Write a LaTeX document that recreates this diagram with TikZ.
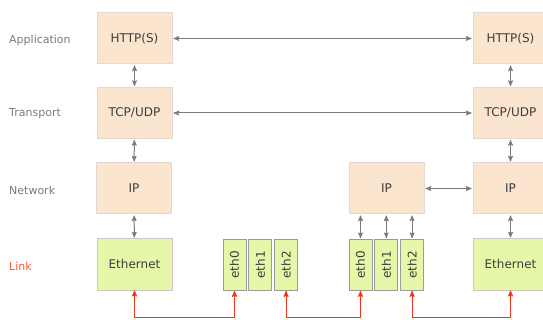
\documentclass[tikz,border=0pt]{standalone}
\usepackage{fontspec}
\setmainfont{DejaVu Sans}
\usepackage{xcolor}
\definecolor{colorLayer}{HTML}{FCE5CF}
\definecolor{colorLayerLine}{HTML}{E2DAD2}
\definecolor{colorLink}{HTML}{E6F7AA}
\definecolor{colorPortLine}{HTML}{9A9A9A}
\definecolor{colorText}{HTML}{3C3C3C}
\definecolor{colorLabel}{HTML}{7A7A7A}
\definecolor{colorWire}{HTML}{F2361A}
\definecolor{colorLinkLabel}{HTML}{F45634}
\usepackage{tikz}
\usetikzlibrary{arrows, positioning}
\tikzset{
  layerbox/.style={draw=colorLayerLine, fill=colorLayer, line width=1pt, minimum width=75, minimum height=51, inner sep=0pt, text=colorText, font=\fontsize{12}{14}\selectfont},
  linkbox/.style={layerbox, fill=colorLink, draw=colorLayerLine!80!gray},
  portbox/.style={draw=colorPortLine, fill=colorLink, line width=0.8pt, minimum width=23, minimum height=51, inner sep=0pt, text=colorText, font=\fontsize{12}{14}\selectfont},
  layername/.style={anchor=west, inner sep=0pt, text=colorLabel, font=\fontsize{11}{13}\selectfont},
  conn/.style={<->, >=stealth', draw=colorLabel, line width=1pt, shorten >=1pt, shorten <=1pt},
  wire/.style={<->, >=stealth', draw=colorWire, line width=1.1pt}
}

\begin{document}
\begin{tikzpicture}[x=1pt, y=-1pt, node distance=2pt]
\clip (0,0) rectangle (543,320);
% layer names
\node[layername] (napp) at (9,40) {Application};
\node[layername] (ntra) at (9,114) {Transport};
\node[layername] (nnet) at (9,190) {Network};
\node[layername, text=colorLinkLabel] (nlnk) at (9,266) {Link};
% left host
\node[layerbox] (httpL) at (134.5,38.5) {HTTP(S)};
\node[layerbox] (tcpL) at (134.5,113) {TCP/UDP};
\node[layerbox] (ipL) at (134,188.5) {IP};
\node[linkbox] (ethL) at (134.5,264.5) {Ethernet};
% right host
\node[layerbox] (httpR) at (510.5,38.5) {HTTP(S)};
\node[layerbox] (tcpR) at (510.5,113) {TCP/UDP};
\node[layerbox] (ipR) at (510.5,188.5) {IP};
\node[linkbox] (ethR) at (510.5,264.5) {Ethernet};
% switch and router
\node[portbox] (swA) at (234.5,265) {\rotatebox{90}{eth0}};
\node[portbox, right=of swA] (swB) {\rotatebox{90}{eth1}};
\node[portbox, right=of swB] (swC) {\rotatebox{90}{eth2}};
\node[layerbox] (ipM) at (386.5,188.5) {IP};
\node[portbox] (rtA) at (360.5,265) {\rotatebox{90}{eth0}};
\node[portbox, right=of rtA] (rtB) {\rotatebox{90}{eth1}};
\node[portbox, right=of rtB] (rtC) {\rotatebox{90}{eth2}};
% peer connections
\draw[conn] (httpL) -- (httpR);
\draw[conn] (tcpL) -- (tcpR);
\draw[conn] (ipM) -- (ipR);
% stacks
\draw[conn] (httpL) -- (tcpL);
\draw[conn] (tcpL) -- (ipL);
\draw[conn] (ipL) -- (ethL);
\draw[conn] (httpR) -- (tcpR);
\draw[conn] (tcpR) -- (ipR);
\draw[conn] (ipR) -- (ethR);
\foreach \p in {rtA, rtB, rtC}
  \draw[conn] (\p.north |- ipM.south) -- (\p.north);
% cables
\draw[wire] (ethL.south) -- ++(0,27) -| (swA.south);
\draw[wire] (swC.south) -- ++(0,27) -| (rtA.south);
\draw[wire] (rtC.south) -- ++(0,27) -| (ethR.south);
\end{tikzpicture}
\end{document}
